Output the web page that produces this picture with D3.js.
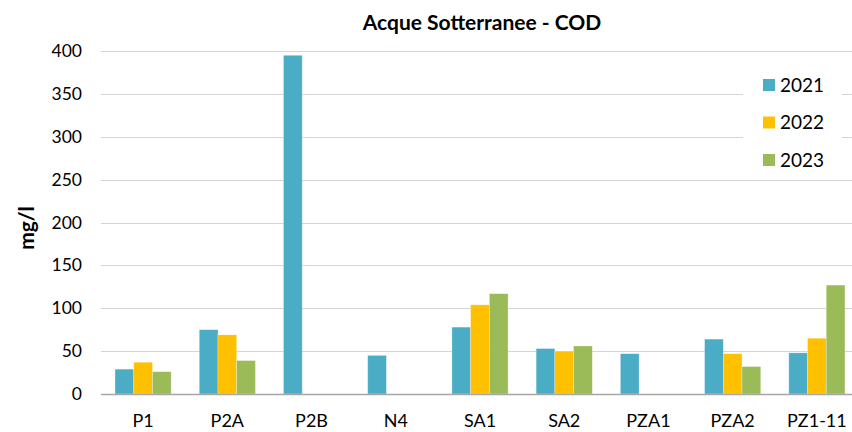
<!DOCTYPE html>
<html>
<head>
<meta charset="utf-8">
<script src="https://cdn.jsdelivr.net/npm/d3@7"></script>
<style>
  body { margin: 0; background: #fff; }
  text { font-family: Lato, "Open Sans", sans-serif; fill: #000; }
</style>
</head>
<body>
<svg id="chart" width="852" height="432"></svg>
<script>
var categories = ["P1", "P2A", "P2B", "N4", "SA1", "SA2", "PZA1", "PZA2", "PZ1-11"];
var years = ["2021", "2022", "2023"];
var values2021 = [29, 75, 395, 45, 78, 53, 47, 64, 48];
var values2022 = [37, 69, null, null, 104, 50, null, 47, 65];
var values2023 = [26, 39, null, null, 117, 56, null, 32, 127];
var yTicks = [0, 50, 100, 150, 200, 250, 300, 350, 400];
var colors = ["#4BACC6", "#FFC000", "#9BBB59"];

var series = [values2021, values2022, values2023];

var margin = {top: 51, left: 101},
    width = 758,
    height = 343;

var svg = d3.select("#chart");
var g = svg.append("g")
    .attr("transform", "translate(" + margin.left + "," + margin.top + ")");

var x = d3.scaleBand()
    .domain(categories)
    .range([0, width])
    .paddingInner(0)
    .paddingOuter(0);

// gap width 150% -> bars take 3/4.5 of each band
var barW = x.bandwidth() / 4.5;
var x1 = d3.scaleBand()
    .domain(years)
    .range([barW * 0.75, barW * 3.75]);

var y = d3.scaleLinear()
    .domain([0, 400])
    .range([height, 0]);

// gridlines
g.selectAll(".grid")
    .data(yTicks.slice(1))
    .enter().append("line")
    .attr("x1", 0)
    .attr("x2", width)
    .attr("y1", function (d) { return Math.round(y(d)) + 0.5; })
    .attr("y2", function (d) { return Math.round(y(d)) + 0.5; })
    .attr("stroke", "#d4d4d4")
    .attr("stroke-width", 1);

// bars
years.forEach(function (yr, i) {
    var data = categories.map(function (c, j) { return {cat: c, v: series[i][j]}; })
        .filter(function (d) { return d.v != null; });
    g.selectAll(".bar" + i)
        .data(data)
        .enter().append("rect")
        .attr("x", function (d) { return x(d.cat) + x1(yr); })
        .attr("width", x1.bandwidth())
        .attr("y", function (d) { return y(d.v); })
        .attr("height", function (d) { return height - y(d.v); })
        .attr("fill", colors[i])
        .attr("stroke", "#ffffff")
        .attr("stroke-opacity", 0.4)
        .attr("stroke-width", 0.7);
});

// baseline
g.append("line")
    .attr("x1", 0)
    .attr("x2", width)
    .attr("y1", height + 0.5)
    .attr("y2", height + 0.5)
    .attr("stroke", "#a6a6a6")
    .attr("stroke-width", 1.5);

// y axis labels
var yAxis = d3.axisLeft(y).tickValues(yTicks).tickSize(0).tickPadding(19);
g.append("g")
    .call(yAxis)
    .call(function (a) { a.select(".domain").remove(); })
    .selectAll("text")
    .style("font-size", "17.5px")
    .attr("fill", "#000");

// x axis labels
var xAxis = d3.axisBottom(x).tickSize(0).tickPadding(20);
g.append("g")
    .attr("transform", "translate(0," + height + ")")
    .call(xAxis)
    .call(function (a) { a.select(".domain").remove(); })
    .selectAll("text")
    .style("font-size", "18px")
    .attr("fill", "#000");

// title
svg.append("text")
    .attr("x", 482)
    .attr("y", 30)
    .attr("text-anchor", "middle")
    .style("font-size", "21px")
    .style("font-weight", "bold")
    .text("Acque Sotterranee - COD");

// y title
svg.append("text")
    .attr("transform", "translate(34,228) rotate(-90)")
    .attr("text-anchor", "middle")
    .style("font-size", "21px")
    .style("font-weight", "bold")
    .text("mg/l");

// legend
var legend = svg.append("g");
legend.append("rect")
    .attr("x", 743)
    .attr("y", 64)
    .attr("width", 99)
    .attr("height", 113)
    .attr("fill", "#fff");

years.forEach(function (yr, i) {
    var cy = 85 + i * 37.5;
    legend.append("rect")
        .attr("x", 763)
        .attr("y", cy - 6)
        .attr("width", 12)
        .attr("height", 12)
        .attr("fill", colors[i]);
    legend.append("text")
        .attr("x", 780)
        .attr("y", cy + 6.5)
        .style("font-size", "19px")
        .text(yr);
});
</script>
</body>
</html>
